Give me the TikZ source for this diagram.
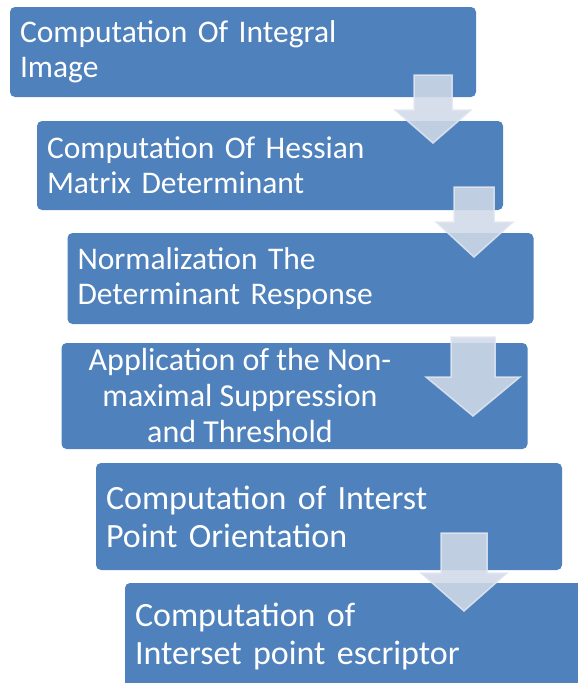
\documentclass[tikz,border=0pt]{standalone}
\usepackage{fontspec}
\setmainfont{Carlito}
\pgfdeclarelayer{boxlayer}
\pgfdeclarelayer{arrowlayer}
\pgfsetlayers{boxlayer,main,arrowlayer}
\definecolor{stageblue}{HTML}{4F81BD}
\definecolor{arrowfill}{RGB}{208,217,232}
\definecolor{arrowedge}{RGB}{224,230,240}
\tikzstyle{stage box}=[fill=stageblue, draw=none, shape=rectangle, rounded corners=5pt, text=white, align=left, inner xsep=10pt, inner ysep=0pt, text width=446pt, minimum width=466pt, font=\fontsize{31.5}{35}\selectfont]
\tikzstyle{stage box big}=[stage box, font=\fontsize{34}{38}\selectfont]
\tikzstyle{stage text}=[text=white, align=center, inner sep=0pt, font=\fontsize{32}{36}\selectfont]
\tikzstyle{stage arrow}=[fill=arrowfill, draw=arrowedge, line width=1.5pt, opacity=0.88, line join=miter]

\begin{document}
\begin{tikzpicture}[x=1pt, y=-1pt]
	\useasboundingbox (0,0) rectangle (578,683);
	\begin{pgfonlayer}{boxlayer}
		\node [style=stage box, minimum height=90pt] (0) at (243, 52) {Computation Of Integral\\Image};
		\node [style=stage box, minimum height=89pt] (1) at (270, 165.5) {Computation Of Hessian\\Matrix Determinant};
		\node [style=stage box, minimum height=91pt] (2) at (300.5, 278.5) {Normalization The\\Determinant Response};
		\node [style=stage box, minimum height=106pt] (3) at (294.5, 396) {};
		\node [style=stage text] (3t) at (240, 396) {Application of the Non-\\maximal Suppression\\and Threshold};
		\node [style=stage box big, minimum height=107pt] (4) at (329, 516.5) {Computation of Interst\\Point Orientation};
		\node [style=stage box big, minimum height=107pt] (5) at (358, 636.5) {Computation of\\Interset point escriptor};
	\end{pgfonlayer}
	\begin{pgfonlayer}{arrowlayer}
		\draw [style=stage arrow] (414,75) -- (452,75) -- (452,110) -- (471,110) -- (433,143) -- (395,110) -- (414,110) -- cycle;
		\draw [style=stage arrow] (454,187) -- (494,187) -- (494,222) -- (513,222) -- (474,257) -- (436,222) -- (454,222) -- cycle;
		\draw [style=stage arrow] (451,337) -- (495,337) -- (495,377) -- (520,377) -- (473,416) -- (426,377) -- (451,377) -- cycle;
		\draw [style=stage arrow] (441,533) -- (487,533) -- (487,573) -- (507,573) -- (464,611) -- (421,573) -- (441,573) -- cycle;
	\end{pgfonlayer}
\end{tikzpicture}
\end{document}
